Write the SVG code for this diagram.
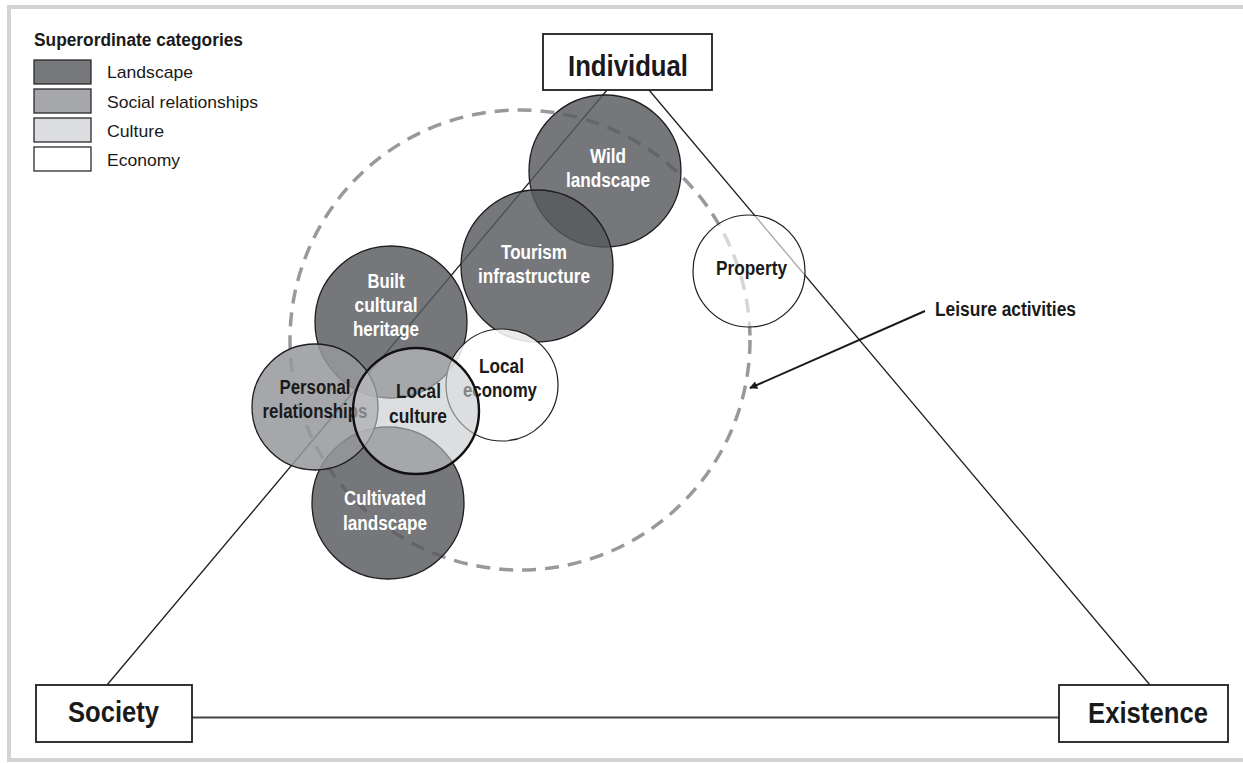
<svg xmlns="http://www.w3.org/2000/svg" width="1243" height="763" viewBox="0 0 1243 763">
<style>
text{font-family:"Liberation Sans",Arial,Helvetica,sans-serif;}
.frame{fill:none;stroke:#d3d3d5;stroke-width:4;}
.box{fill:#fff;stroke:#1e1e1e;stroke-width:1.8;}
.big{font-size:29px;font-weight:bold;fill:#1a1a1a;text-anchor:middle;}
.edge{fill:none;stroke:#1e1e1e;stroke-width:1.3;}
.base{fill:none;stroke:#444;stroke-width:1.8;}
.dash{fill:none;stroke:#98999c;stroke-width:3.5;stroke-dasharray:14 9;}
.land{fill:#58595d;fill-opacity:0.82;stroke:#1e1e1e;stroke-width:1.3;}
.soc{fill:#97989c;fill-opacity:0.85;stroke:#1e1e1e;stroke-width:1.3;}
.cul{fill:#c7c8cb;fill-opacity:0.6;stroke:#111;stroke-width:2.4;}
.eco{fill:#fff;fill-opacity:0.85;stroke:#1e1e1e;stroke-width:1.2;}
.prop{fill:#fff;fill-opacity:0.6;stroke:#1e1e1e;stroke-width:1.2;}
.wl{font-size:20px;font-weight:bold;fill:#fff;text-anchor:middle;}
.bl{font-size:20px;font-weight:bold;fill:#1a1a1a;text-anchor:middle;}
.lt{font-size:18px;font-weight:bold;fill:#1a1a1a;}
.lg{font-size:17px;fill:#1a1a1a;}
.sw{stroke:#2a2a2a;stroke-width:1.3;}
</style>
<defs>
<marker id="ah" viewBox="0 0 10 10" refX="9" refY="5" markerWidth="10" markerHeight="8" markerUnits="userSpaceOnUse" orient="auto">
<path d="M0,0 L10,5 L0,10 z" fill="#1a1a1a"/>
</marker>
</defs>
<rect width="1243" height="763" fill="#fff"/>
<path class="frame" d="M1243,7 H9 V760 H1243"/>

<g id="legend">
<text class="lt" x="34" y="46" textLength="209" lengthAdjust="spacingAndGlyphs">Superordinate categories</text>
<rect class="sw" x="34" y="60" width="57" height="24" fill="#77787c"/>
<rect class="sw" x="34" y="89" width="57" height="24" fill="#a6a7ab"/>
<rect class="sw" x="34" y="118" width="57" height="24" fill="#dcdde0"/>
<rect class="sw" x="34" y="147" width="57" height="24" fill="#fff"/>
<text class="lg" x="107" y="78" textLength="86" lengthAdjust="spacingAndGlyphs">Landscape</text>
<text class="lg" x="107" y="107.5" textLength="151" lengthAdjust="spacingAndGlyphs">Social relationships</text>
<text class="lg" x="107" y="137" textLength="57" lengthAdjust="spacingAndGlyphs">Culture</text>
<text class="lg" x="107" y="166" textLength="73" lengthAdjust="spacingAndGlyphs">Economy</text>
</g>

<g id="connectors">
<line class="edge" x1="607" y1="90" x2="107" y2="685"/>
<line class="edge" x1="649" y1="90" x2="1150" y2="685"/>
<line class="base" x1="192" y1="717.5" x2="1059" y2="717.5"/>
<line x1="925" y1="311" x2="750" y2="388" stroke="#1a1a1a" stroke-width="2" marker-end="url(#ah)"/>
</g>

<g id="leisure-activities">
<circle class="dash" cx="520" cy="340" r="230"/>
<text class="bl" x="1005.5" y="316" textLength="141" lengthAdjust="spacingAndGlyphs">Leisure activities</text>
</g>

<g id="wild-landscape">
<circle class="land" cx="605" cy="171" r="76"/>
<text class="wl" x="608" y="163" textLength="36" lengthAdjust="spacingAndGlyphs">Wild</text>
<text class="wl" x="608" y="187" textLength="84" lengthAdjust="spacingAndGlyphs">landscape</text>
</g>
<g id="tourism-infrastructure">
<circle class="land" cx="537" cy="266" r="76"/>
<text class="wl" x="534" y="259" textLength="66" lengthAdjust="spacingAndGlyphs">Tourism</text>
<text class="wl" x="534" y="283" textLength="112" lengthAdjust="spacingAndGlyphs">infrastructure</text>
</g>
<g id="built-cultural-heritage">
<circle class="land" cx="391" cy="322" r="76"/>
<text class="wl" x="386" y="288" textLength="37" lengthAdjust="spacingAndGlyphs">Built</text>
<text class="wl" x="386" y="312" textLength="63" lengthAdjust="spacingAndGlyphs">cultural</text>
<text class="wl" x="386" y="336" textLength="66" lengthAdjust="spacingAndGlyphs">heritage</text>
</g>
<g id="cultivated-landscape">
<circle class="land" cx="388" cy="503" r="76"/>
<text class="wl" x="385" y="505" textLength="82" lengthAdjust="spacingAndGlyphs">Cultivated</text>
<text class="wl" x="385" y="530" textLength="84" lengthAdjust="spacingAndGlyphs">landscape</text>
</g>
<g id="personal-relationships">
<circle class="soc" cx="315" cy="407" r="63"/>
<text class="bl" x="315" y="394" textLength="71" lengthAdjust="spacingAndGlyphs">Personal</text>
<text class="bl" x="315" y="418" textLength="105" lengthAdjust="spacingAndGlyphs">relationships</text>
</g>
<g id="local-economy">
<circle class="eco" cx="502" cy="385" r="56"/>
<text class="bl" x="501.5" y="373" textLength="45" lengthAdjust="spacingAndGlyphs">Local</text>
<text class="bl" x="500" y="397" textLength="74" lengthAdjust="spacingAndGlyphs">economy</text>
</g>
<g id="local-culture">
<circle class="cul" cx="416" cy="411" r="63"/>
<text class="bl" x="418.5" y="398" textLength="45" lengthAdjust="spacingAndGlyphs">Local</text>
<text class="bl" x="418" y="423" textLength="58" lengthAdjust="spacingAndGlyphs">culture</text>
</g>
<g id="property">
<circle class="prop" cx="749" cy="271" r="56"/>
<text class="bl" x="751.5" y="275" textLength="71" lengthAdjust="spacingAndGlyphs">Property</text>
</g>

<g id="individual">
<rect class="box" x="543" y="34" width="169" height="56"/>
<text class="big" x="628" y="76" textLength="120" lengthAdjust="spacingAndGlyphs">Individual</text>
</g>
<g id="society">
<rect class="box" x="36" y="685" width="156" height="57"/>
<text class="big" x="113.5" y="722" textLength="91" lengthAdjust="spacingAndGlyphs">Society</text>
</g>
<g id="existence">
<rect class="box" x="1059" y="685" width="169" height="57"/>
<text class="big" x="1148" y="723" textLength="120" lengthAdjust="spacingAndGlyphs">Existence</text>
</g>
</svg>
